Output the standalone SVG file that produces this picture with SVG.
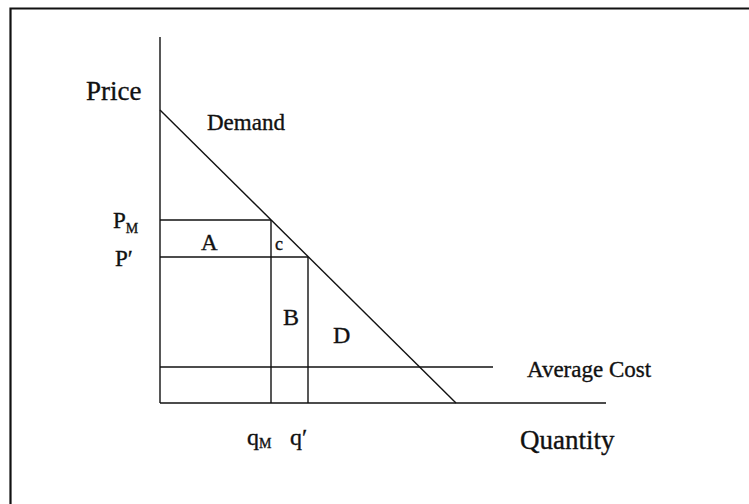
<svg xmlns="http://www.w3.org/2000/svg" width="749" height="504" viewBox="0 0 749 504">
<style>
.ln{stroke:#111;stroke-width:1.4;fill:none}
.fr{stroke:#111;stroke-width:2.2;fill:none}
text{font-family:"Liberation Serif","Times New Roman",serif;fill:#111;stroke:#111;stroke-width:0.35}
</style>
<rect width="749" height="504" fill="#fff"/>
<path class="fr" d="M10.5 520 V8.5 H760"/>
<g id="connectors">
<line class="ln" x1="160" y1="37" x2="160" y2="403"/>
<line class="ln" x1="160" y1="403" x2="606" y2="403"/>
<line class="ln" x1="160" y1="110" x2="456" y2="403"/>
<line class="ln" x1="160" y1="220" x2="271" y2="220"/>
<line class="ln" x1="160" y1="257" x2="308" y2="257"/>
<line class="ln" x1="271" y1="220" x2="271" y2="403"/>
<line class="ln" x1="308" y1="257" x2="308" y2="403"/>
<line class="ln" x1="160" y1="367" x2="493" y2="367"/>
</g>
<g id="price"><text x="86" y="100" font-size="27">Price</text></g>
<g id="demand"><text x="207" y="130" font-size="23">Demand</text></g>
<g id="pm"><text x="113" y="228" font-size="23">P<tspan font-size="14" dy="5">M</tspan></text></g>
<g id="pprime"><text x="115" y="266" font-size="23">P′</text></g>
<g id="a"><text x="201" y="250" font-size="23">A</text></g>
<g id="c"><text x="275" y="250" font-size="18">c</text></g>
<g id="b"><text x="283" y="325" font-size="24">B</text></g>
<g id="d"><text x="333" y="343" font-size="24">D</text></g>
<g id="avgcost"><text x="527" y="377" font-size="23">Average Cost</text></g>
<g id="qm"><text x="247" y="445" font-size="24">q<tspan font-size="14" dy="3">M</tspan></text></g>
<g id="qprime"><text x="290" y="445" font-size="24">q′</text></g>
<g id="quantity"><text x="520" y="449" font-size="27">Quantity</text></g>
</svg>
